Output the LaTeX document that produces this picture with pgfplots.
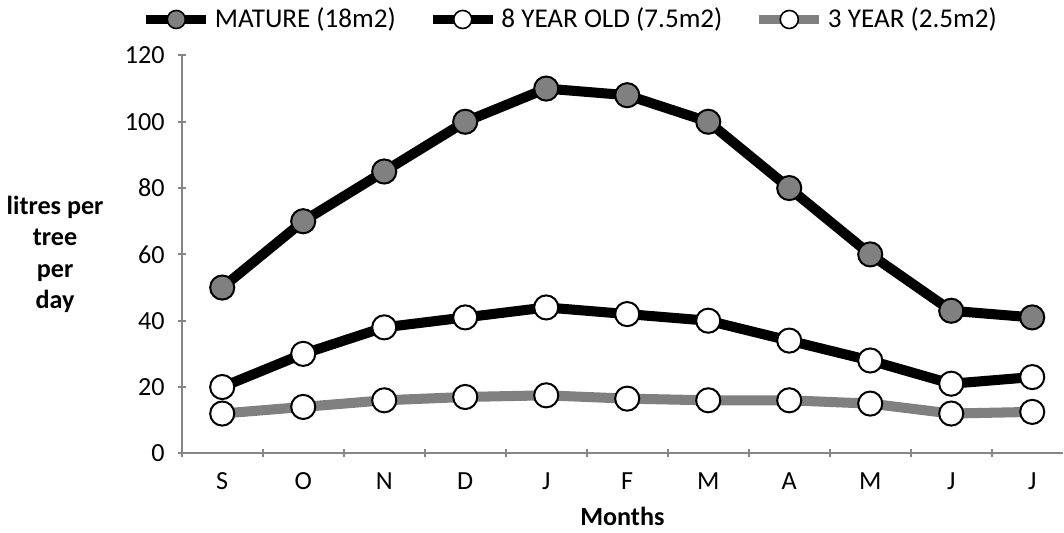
\documentclass[border=0pt]{standalone}
\usepackage{pgfplots}
\pgfplotsset{compat=1.18}
\usepackage{fontspec}
\setmainfont{Carlito}
\definecolor{axgray}{HTML}{868686}
\definecolor{midgray}{HTML}{808080}
\begin{document}
\begin{tikzpicture}
\begin{axis}[
    scale only axis,
    width=438.5pt, height=198pt,
    font=\fontsize{13}{15.6}\selectfont,
    /pgf/number format/assume math mode=true,
    xmin=-0.5, xmax=10.38,
    ymin=0, ymax=120,
    ytick={0,20,...,120},
    xtick={0,...,10},
    xticklabels={S,O,N,D,J,F,M,A,M,J,J},
    minor xtick={-0.5,0.5,...,9.5},
    major x tick style={draw=none},
    tick align=outside,
    tick style={axgray, line width=1pt},
    major tick length=4pt, minor tick length=4pt,
    axis x line=bottom, axis y line=left,
    axis line style={axgray, line width=1pt, -},
    xticklabel style={yshift=-4pt},
    yticklabel style={xshift=-3pt},
    xlabel={\textbf{Months}},
    xlabel style={yshift=-2pt},
    ylabel={\textbf{litres per}\\\textbf{tree}\\\textbf{per}\\\textbf{day}},
    ylabel style={rotate=-90, align=center, at={(axis description cs:0,0.5)}, anchor=center, xshift=-63pt},
    clip=false,
    legend columns=3,
    legend style={draw=none, fill=none, at={(0.442,1)}, anchor=south, yshift=8pt,
        /tikz/every even column/.append style={column sep=14pt},
        font=\fontsize{13.5}{16}\selectfont},
    legend image code/.code={
        \draw[mark repeat=2, mark phase=2, line width=4.5pt,
              every mark/.append style={line width=0.8pt, scale=0.75}]
            plot coordinates {(0pt,0pt) (15pt,0pt) (30pt,0pt)};},
    every axis plot/.append style={line width=5pt, mark=*, mark size=6pt},
]
\addplot[color=black, mark options={draw=black, line width=1pt, fill=midgray}] coordinates {
    (0,50) (1,70) (2,85) (3,100) (4,110) (5,108) (6,100) (7,80) (8,60) (9,43) (10,41)};
\addlegendentry{MATURE (18m2)}
\addplot[color=black, mark options={draw=black, line width=1pt, fill=white}] coordinates {
    (0,20) (1,30) (2,38) (3,41) (4,44) (5,42) (6,40) (7,34) (8,28) (9,21) (10,23)};
\addlegendentry{8 YEAR OLD (7.5m2)}
\addplot[color=midgray, mark options={draw=black, line width=1pt, fill=white}] coordinates {
    (0,12) (1,14) (2,16) (3,17) (4,17.5) (5,16.5) (6,16) (7,16) (8,15) (9,12) (10,12.5)};
\addlegendentry{3 YEAR (2.5m2)}
\end{axis}
\end{tikzpicture}
\end{document}
